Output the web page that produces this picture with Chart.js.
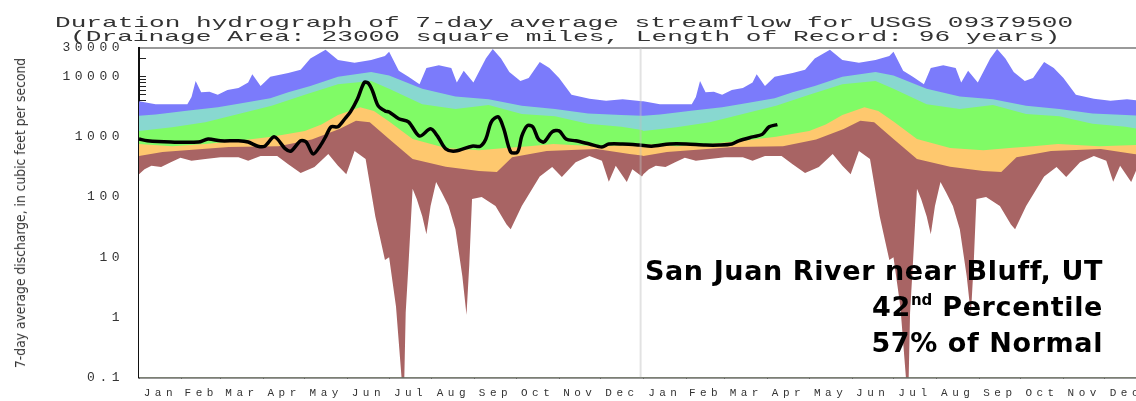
<!DOCTYPE html>
<html>
<head>
<meta charset="utf-8">
<title>Duration hydrograph - San Juan River near Bluff, UT</title>
<script src="https://cdn.jsdelivr.net/npm/chart.js@4.4.1/dist/chart.umd.min.js"></script>
<style>
  html, body { margin: 0; padding: 0; background: #fff; }
  #wrap { position: relative; width: 1136px; height: 401px; overflow: hidden; }
  #chart { position: absolute; left: 0; top: 0; }
  .title { position: absolute; font: 15px "Liberation Mono", monospace; line-height: 15px; color: #333; white-space: pre; transform-origin: 0 0; }
  #ytitle { position: absolute; left: 20px; top: 213px; font: 14px "Liberation Sans Narrow", "DejaVu Sans Condensed", sans-serif; color: #333; white-space: pre; }
  #note { position: absolute; right: 33px; top: 253px; text-align: right; font: bold 27px "DejaVu Sans", sans-serif; line-height: 36px; letter-spacing: 0.6px; color: #000; }
  #note sup { font-size: 15px; line-height: 0; vertical-align: 11px; letter-spacing: 0; }
</style>
</head>
<body>
<div id="wrap">
  <canvas id="chart" width="1136" height="401"></canvas>
  <div class="title" id="t1" style="left:55px; top:16px">Duration hydrograph of 7-day average streamflow for USGS 09379500</div>
  <div class="title" id="t2" style="left:70px; top:30px">(Drainage Area: 23000 square miles, Length of Record: 96 years)</div>
  <div id="ytitle">7-day average discharge, in cubic feet per second</div>
  <div id="note">San Juan River near Bluff, UT<br>42<sup>nd</sup> Percentile<br>57% of Normal</div>
</div>
<script>
// Month axis (day of year, two years shown)
const monthNames = ['Jan', 'Feb', 'Mar', 'Apr', 'May', 'Jun', 'Jul', 'Aug', 'Sep', 'Oct', 'Nov', 'Dec'];
const monthStartDays = [0, 31, 59, 90, 120, 151, 181, 212, 243, 273, 304, 334, 365];
const yLabelValues = [0.1, 1, 10, 100, 1000, 10000, 30000];

// Daily statistics for the period of record: [day of year, cfs]
const maxFlow = [[0, 3900], [12, 3500], [35, 3500], [38, 4600], [41, 8500], [45, 5500], [51, 5600], [57, 5000],
  [64, 6000], [72, 6500], [79, 8000], [82, 11000], [88, 7000], [95, 10000], [108, 11500], [117, 13000],
  [124, 20000], [135, 28000], [144, 19000], [156, 17000], [168, 19000], [178, 22000], [181, 26000],
  [188, 12500], [195, 10000], [203, 7500], [208, 14000], [217, 15500], [226, 14000], [230, 8000],
  [235, 12500], [242, 8000], [251, 20000], [256, 29000], [262, 20000], [268, 12000], [276, 8500],
  [282, 9500], [290, 17500], [297, 14000], [304, 9500], [313, 5000], [326, 4300], [338, 4000],
  [350, 4200], [364, 3900]];
const p90Flow = [[0, 2250], [12, 2350], [36, 2750], [57, 3100], [72, 3550], [95, 4400], [108, 5500],
  [124, 7000], [144, 10000], [168, 12000], [181, 10500], [205, 6300], [229, 4700], [253, 4200],
  [277, 3300], [301, 2900], [325, 2450], [349, 2300], [364, 2250]];
const p75Flow = [[0, 1250], [24, 1450], [48, 1750], [72, 2400], [96, 3300], [120, 5000], [144, 7500],
  [168, 8500], [181, 6300], [205, 3500], [229, 2900], [253, 3400], [277, 2400], [301, 2200],
  [325, 1650], [349, 1470], [364, 1300]];
const p25Flow = [[0, 760], [24, 700], [48, 760], [72, 860], [96, 1000], [120, 1250], [132, 1600],
  [144, 2300], [160, 3100], [170, 2700], [181, 1800], [198, 920], [222, 650], [246, 600], [265, 650],
  [282, 700], [300, 760], [330, 700], [364, 740]];
const p10Flow = [[0, 480], [17, 560], [65, 680], [101, 700], [125, 900], [145, 1350], [157, 1850],
  [167, 1750], [181, 920], [198, 430], [222, 320], [246, 270], [259, 260], [270, 460], [295, 580],
  [331, 630], [355, 520], [364, 490]];
const minFlow = [[0, 240], [4, 290], [9, 330], [16, 316], [23, 380], [30, 450], [38, 400], [48, 430],
  [59, 460], [72, 460], [79, 400], [88, 480], [100, 480], [108, 350], [117, 250], [127, 316], [137, 520],
  [144, 330], [150, 240], [156, 580], [164, 430], [171, 48], [178, 9], [181, 10], [186, 1.5], [190, 0.1],
  [192, 0.1], [193, 1.2], [195, 7.4], [198, 137], [201, 93], [205, 48], [208, 24], [211, 71], [215, 178],
  [219, 120], [224, 71], [229, 29], [234, 4.8], [237, 1.1], [239, 7.4], [241, 93], [248, 100], [258, 71],
  [266, 35], [269, 29], [277, 71], [290, 220], [299, 316], [306, 215], [316, 380], [326, 480], [335, 400],
  [340, 180], [345, 330], [353, 178], [357, 290], [364, 220]];

// Current record, 7-day average: [day since Jan 1 of first year, cfs]
const obsFlow = [[0, 920], [6, 860], [23, 820], [43, 820], [50, 920], [59, 860], [72, 860], [79, 820],
  [86, 700], [91, 700], [98, 1000], [106, 630], [110, 580], [117, 860], [121, 820], [126, 520], [131, 700],
  [135, 1000], [139, 1470], [144, 1470], [149, 2000], [153, 2600], [158, 4200], [163, 8000], [166, 7800],
  [169, 5800], [173, 3300], [178, 2700], [181, 2600], [188, 2000], [195, 1780], [203, 1030], [211, 1360],
  [216, 1030], [222, 630], [229, 580], [241, 700], [247, 700], [251, 920], [255, 1780], [260, 2150],
  [264, 1360], [269, 560], [274, 560], [277, 1030], [281, 1530], [285, 1470], [289, 920], [293, 820],
  [299, 1210], [304, 1260], [309, 920], [316, 860], [326, 760], [335, 680], [340, 760], [350, 760],
  [362, 730], [371, 700], [384, 760], [396, 760], [410, 730], [420, 730], [429, 760], [434, 860],
  [444, 1000], [451, 1100], [456, 1470], [462, 1600]];

const xMax = 721.5;

const monthTicks = [];
const monthMids = [];
const midLabels = [];
[0, 365].forEach(off => {
  for (let i = 0; i < 12; i++) {
    monthTicks.push(monthStartDays[i] + off);
    monthMids.push((monthStartDays[i] + monthStartDays[i + 1]) / 2 + off);
    midLabels.push(monthNames[i]);
  }
});

const yTicks = [];
yLabelValues.slice(0, 5).forEach(dec => {
  for (let m = 1; m < 10; m++) yTicks.push(m * dec);
});
yTicks.push(10000, 20000, 30000);

function twoYears(points) {
  const out = [];
  [0, 365].forEach(off => points.forEach(p => out.push({ x: p[0] + off, y: p[1] })));
  return out;
}

function band(points, color, order) {
  return {
    data: twoYears(points),
    backgroundColor: color,
    borderColor: color,
    borderWidth: 0,
    pointRadius: 0,
    fill: 'start',
    order: order
  };
}

// letter spacing for the canvas tick labels
const spacedText = {
  id: 'spacedText',
  beforeDraw(chart) { chart.ctx.letterSpacing = '4.5px'; },
  afterDraw(chart) { chart.ctx.letterSpacing = '0px'; }
};

const ctx = document.getElementById('chart').getContext('2d');
const chart = new Chart(ctx, {
  type: 'line',
  data: {
    datasets: [
      band(maxFlow, '#7b7bfb', 6),
      band(p90Flow, '#88d8d0', 5),
      band(p75Flow, '#80fb66', 4),
      band(p25Flow, '#fec86e', 3),
      band(p10Flow, '#a86464', 2),
      band(minFlow, '#ffffff', 1),
      {
        data: obsFlow.map(p => ({ x: p[0], y: p[1] })),
        borderColor: '#000',
        borderWidth: 3.5,
        pointRadius: 0,
        fill: false,
        tension: 0.3,
        order: 0
      },
      {
        data: [{ x: 363, y: 0.1 }, { x: 363, y: 30000 }],
        borderColor: 'rgba(190,190,190,0.45)',
        borderWidth: 2,
        pointRadius: 0,
        fill: false,
        order: -1
      }
    ]
  },
  options: {
    responsive: false,
    animation: false,
    layout: { padding: { top: 48, left: 0, right: 0, bottom: 0 } },
    plugins: { legend: { display: false }, tooltip: { enabled: false }, title: { display: false } },
    scales: {
      x: {
        type: 'linear', min: 0, max: xMax, z: 1,
        afterFit: s => { s.height = 23.5; s.paddingLeft = 0; s.paddingRight = 0; },
        afterBuildTicks: s => {
          s.ticks = monthTicks.concat(monthMids).filter(v => v <= xMax).map(v => ({ value: v }));
        },
        ticks: {
          autoSkip: false, maxRotation: 0, padding: 13,
          color: '#333',
          font: { family: 'Liberation Mono', size: 11 },
          callback: v => {
            const i = monthMids.indexOf(v);
            return i >= 0 ? midLabels[i] : '';
          }
        },
        grid: {
          drawOnChartArea: false,
          tickLength: -4,
          tickColor: c => (c.tick && monthMids.includes(c.tick.value)) ? 'rgba(0,0,0,0)' : '#333'
        },
        border: { color: '#333', width: 1.5 }
      },
      x2: {
        type: 'linear', position: 'top', min: 0, max: xMax,
        afterFit: s => { s.height = 0; s.paddingLeft = 0; s.paddingRight = 0; },
        ticks: { display: false },
        grid: { display: false, drawTicks: false },
        border: { display: true, color: '#9a9a9a', width: 2 }
      },
      y: {
        type: 'logarithmic', min: 0.1, max: 30000, z: 1,
        afterFit: s => { s.width = 139; s.paddingTop = 0; s.paddingBottom = 0; },
        afterBuildTicks: s => { s.ticks = yTicks.map(v => ({ value: v })); },
        ticks: {
          autoSkip: false, padding: 22,
          color: '#333',
          font: { family: 'Liberation Mono', size: 13 },
          callback: v => yLabelValues.includes(v) ? String(v) : ''
        },
        grid: { drawOnChartArea: false, tickLength: -7, tickColor: '#222' },
        border: { color: '#111', width: 2 }
      }
    }
  },
  plugins: [spacedText]
});
chart.draw();

// stretch the title lines and axis title to the reference widths
function stretch(id, width) {
  const el = document.getElementById(id);
  el.style.transform = 'scaleX(' + (width / el.offsetWidth) + ')';
}
stretch('t1', 1018);
stretch('t2', 990);
const yt = document.getElementById('ytitle');
yt.style.transform = 'translate(-50%, -50%) rotate(-90deg) scaleX(' + (310 / yt.offsetWidth) + ')';
</script>
</body>
</html>
